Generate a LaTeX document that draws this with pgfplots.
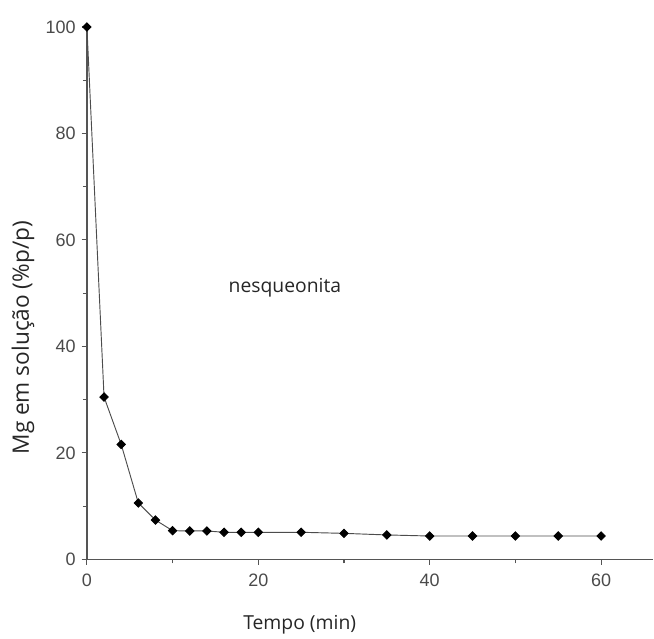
\documentclass[border=0pt]{standalone}
\usepackage{fontspec}
\setmainfont{Liberation Sans}
\newfontfamily\labfont{Open Sans}
\usepackage{pgfplots}
\pgfplotsset{compat=1.18}
\definecolor{axgray}{HTML}{555555}
\definecolor{txtgray}{HTML}{4A4A4A}
\begin{document}
\begin{tikzpicture}
\begin{axis}[
  scale only axis,
  width=425.25pt, height=399.75pt,
  at={(0,0)}, anchor=south west,
  xmin=0, xmax=66.1, ymin=0, ymax=100,
  axis lines*=left,
  axis line style={axgray, line width=1pt},
  xtick={0,20,40,60}, ytick={0,20,40,60,80,100},
  minor xtick={10,30,50}, minor ytick={10,30,50,70,90},
  tick align=outside,
  major tick length=4pt, minor tick length=3pt,
  tick style={axgray, line width=0.8pt},
  ticklabel style={font=\fontsize{13.5}{15}\selectfont, text=txtgray},
  /pgf/number format/assume math mode=true,
  xticklabel style={yshift=-3pt},
  yticklabel style={xshift=-1pt},
  clip=false,
]
\addplot[color=black!70, line width=0.7pt, mark=square*, mark size=2.2pt,
  mark options={rotate=45, fill=black, draw=black, solid}]
coordinates {
(0,100) (2,30.5) (4,21.6) (6,10.6) (8,7.4) (10,5.4) (12,5.35) (14,5.35)
(16,5.1) (18,5.1) (20,5.1) (25,5.1) (30,4.9) (35,4.6) (40,4.4) (45,4.4)
(50,4.4) (55,4.4) (60,4.4)
};
\node[font=\labfont\fontsize{14.5}{16}\selectfont, text=black!85] at (axis cs:23.1,51) {nesqueonita};
\end{axis}
\node[font=\labfont\fontsize{14.5}{16}\selectfont, text=black!85] at (159.75pt,-48.75pt) {Tempo (min)};
\node[font=\labfont\fontsize{17}{19}\selectfont, text=black!85, rotate=90] at (-48pt,166.5pt) {Mg em solução (\%p/p)};
\path[use as bounding box] (-65.25pt,-58.5pt) rectangle (425.25pt,420pt);
\end{tikzpicture}
\end{document}
